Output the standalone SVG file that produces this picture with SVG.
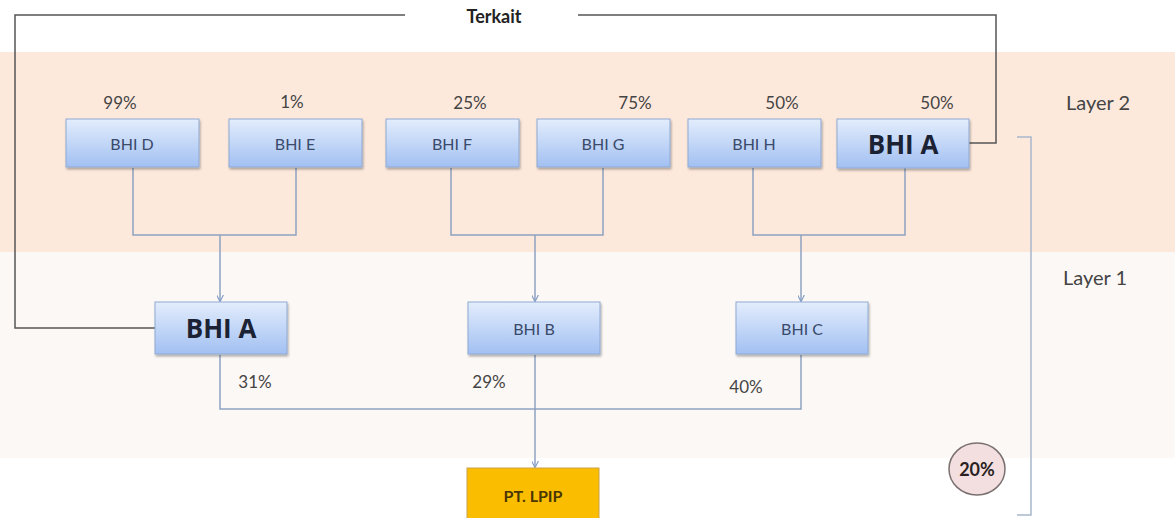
<svg xmlns="http://www.w3.org/2000/svg" width="1175" height="518" viewBox="0 0 1175 518">
<defs>
<linearGradient id="boxg" x1="0" y1="0" x2="0" y2="1">
<stop offset="0" stop-color="#e3edfc"/>
<stop offset="1" stop-color="#a2c0f2"/>
</linearGradient>
<marker id="arr" viewBox="0 0 10 10" refX="9" refY="5" markerWidth="7" markerHeight="7" orient="auto" markerUnits="userSpaceOnUse">
<path d="M0,0 L10,5 L0,10" fill="none" stroke="#7f9cc6" stroke-width="1.6"/>
</marker>
<filter id="sh" x="-10%" y="-10%" width="125%" height="130%">
<feDropShadow dx="1" dy="2" stdDeviation="1.2" flood-color="#000" flood-opacity="0.3"/>
</filter>
</defs>
<style>
.box{fill:url(#boxg);stroke:#8fa9d2;stroke-width:1;filter:url(#sh)}
.t{font-family:Lato,"Open Sans","Liberation Sans",sans-serif;font-size:16px;fill:#3a4a6a;text-anchor:middle;dominant-baseline:central}
.big{font-family:"Open Sans","Liberation Sans",sans-serif;font-size:26px;font-weight:bold;fill:#1b2233;text-anchor:middle;dominant-baseline:central}
.pct{font-family:Lato,"Open Sans","Liberation Sans",sans-serif;font-size:17px;fill:#444;text-anchor:middle;dominant-baseline:central}
.lay{font-family:Lato,"Open Sans","Liberation Sans",sans-serif;font-size:20px;fill:#444;dominant-baseline:central}
.c{fill:none;stroke:#8ea2c2;stroke-width:1.5}
.k{fill:none;stroke:#555;stroke-width:1.5}
</style>
<rect x="0" y="0" width="1175" height="518" fill="#fff"/>
<rect x="0" y="52" width="1175" height="200" fill="#fde9dc"/>
<rect x="0" y="252" width="1175" height="206" fill="#fcf8f5"/>

<g id="connectors">
<path class="k" d="M405,15 H15 V328 H155"/>
<path class="k" d="M578,15 H996 V143 H969"/>
<path class="c" d="M133,168 V235 H296 V168"/>
<path class="c" marker-end="url(#arr)" d="M220,235 V301"/>
<path class="c" d="M451,168 V235 H603 V168"/>
<path class="c" marker-end="url(#arr)" d="M535,235 V301"/>
<path class="c" d="M753,168 V235 H905 V168"/>
<path class="c" marker-end="url(#arr)" d="M801,235 V301"/>
<path class="c" d="M220,355 V409 H801 V355"/>
<path class="c" marker-end="url(#arr)" d="M535,355 V467"/>
<path d="M1017,137 H1031 V515 H1017" fill="none" stroke="#a8b7cc" stroke-width="1.5"/>
</g>

<text class="pct" x="494" y="16" style="font-weight:bold;font-size:18px;fill:#222">Terkait</text>
<text class="lay" x="1066" y="102">Layer 2</text>
<text class="lay" x="1063" y="277">Layer 1</text>

<g id="pcts">
<text class="pct" x="120" y="102">99%</text>
<text class="pct" x="292" y="101">1%</text>
<text class="pct" x="470" y="102">25%</text>
<text class="pct" x="635" y="102">75%</text>
<text class="pct" x="782" y="102">50%</text>
<text class="pct" x="937" y="102">50%</text>
<text class="pct" x="255" y="381">31%</text>
<text class="pct" x="489" y="381">29%</text>
<text class="pct" x="746" y="386">40%</text>
</g>

<g id="bhi-d"><rect class="box" x="66" y="119" width="133" height="48"/><text class="t" x="132" y="143">BHI D</text></g>
<g id="bhi-e"><rect class="box" x="229" y="119" width="133" height="48"/><text class="t" x="295" y="143">BHI E</text></g>
<g id="bhi-f"><rect class="box" x="386" y="119" width="133" height="48"/><text class="t" x="452" y="143">BHI F</text></g>
<g id="bhi-g"><rect class="box" x="537" y="119" width="133" height="48"/><text class="t" x="603" y="143">BHI G</text></g>
<g id="bhi-h"><rect class="box" x="688" y="119" width="133" height="48"/><text class="t" x="754" y="143">BHI H</text></g>
<g id="bhi-a2"><rect class="box" x="837" y="119" width="132" height="49"/><text class="big" x="903" y="144">BHI A</text></g>

<g id="bhi-a1"><rect class="box" x="155" y="302" width="132" height="52"/><text class="big" x="221" y="328">BHI A</text></g>
<g id="bhi-b"><rect class="box" x="468" y="302" width="132" height="52"/><text class="t" x="534" y="328">BHI B</text></g>
<g id="bhi-c"><rect class="box" x="736" y="302" width="132" height="52"/><text class="t" x="802" y="328">BHI C</text></g>

<g id="pt-lpip"><rect x="467" y="468" width="132" height="60" fill="#fbbd00" stroke="#c9a24a" stroke-width="1"/><text class="t" x="533" y="495" style="fill:#4a3600;font-size:16px;font-weight:bold">PT. LPIP</text></g>

<g id="pct20"><ellipse cx="977" cy="469" rx="28" ry="26" fill="#f3dfe0" stroke="#7a7070" stroke-width="1.5"/><text class="pct" x="977" y="469" style="font-weight:bold;fill:#2a1f22;font-size:18px">20%</text></g>
</svg>
